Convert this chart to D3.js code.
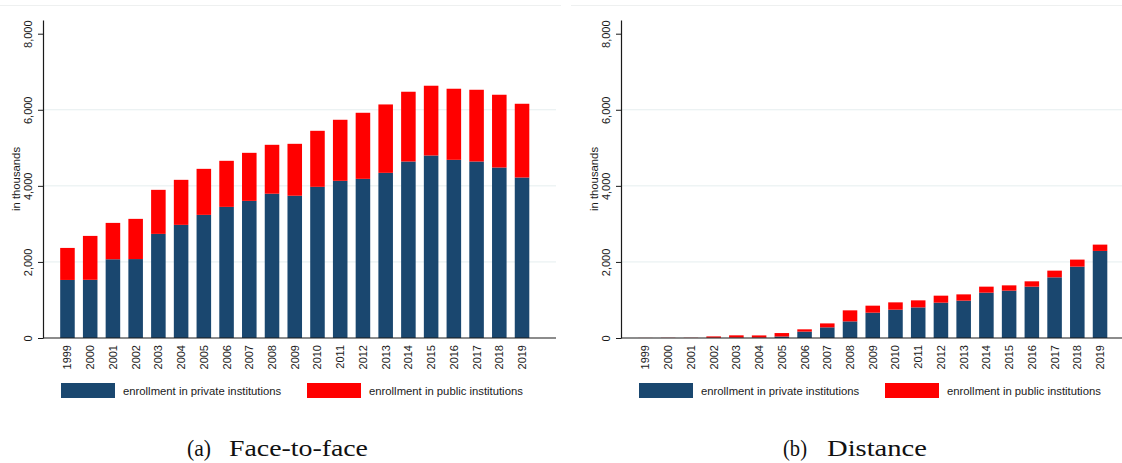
<!DOCTYPE html>
<html>
<head>
<meta charset="utf-8">
<script src="https://cdn.jsdelivr.net/npm/d3@7/dist/d3.min.js"></script>
<style>
  html, body { margin: 0; padding: 0; background: #fff; }
  svg { display: block; }
</style>
</head>
<body>
<svg id="chart" width="1122" height="463"></svg>
<script>
// Enrollment in higher education (thousands), 1999–2019
const years = ["1999","2000","2001","2002","2003","2004","2005","2006","2007","2008",
               "2009","2010","2011","2012","2013","2014","2015","2016","2017","2018","2019"];

// Face-to-face courses
const f2fPrivate = [1526, 1530, 2070, 2075, 2737, 2974, 3237, 3447, 3605, 3793,
                    3740, 3974, 4132, 4184, 4342, 4640, 4798, 4684, 4640, 4482, 4219];
const f2fPublic  = [842, 1154, 956, 1057, 1158, 1184, 1210, 1211, 1263, 1286,
                    1365, 1473, 1605, 1737, 1798, 1834, 1834, 1869, 1886, 1913, 1939];

// Distance courses
const distPrivate = [0, 1, 1, 6, 10, 10, 40, 168, 280, 437,
                     666, 745, 805, 929, 982, 1192, 1245, 1350, 1595, 1876, 2289];
const distPublic  = [2, 4, 4, 36, 60, 58, 90, 60, 104, 290,
                     184, 192, 185, 184, 165, 158, 139, 140, 176, 185, 166];

const yTicks = [0, 2000, 4000, 6000, 8000];
const seriesNames = ["enrollment in private institutions", "enrollment in public institutions"];
const seriesKeys = ["private", "public"];
const colors = { private: "#1a476f", public: "#ff0000" };

const svg = d3.select("#chart");
const sans = "'Liberation Sans', Arial, Helvetica, sans-serif";
const serif = "'Liberation Serif', 'Times New Roman', serif";

// panel-local layout
const L = {
  axisX: 43, plotRight: 556, plotTop: 20, baseY: 338, yMax: 8360,
  bandStart: 56.1, bandEnd: 533.4
};

// serif caption piece, stretched horizontally to span [x0, x1]
function captionText(str, x0, x1) {
  const t = svg.append("text")
    .attr("font-family", serif).attr("font-size", 24).attr("fill", "#111")
    .text(str);
  const w = t.node().getComputedTextLength();
  t.attr("transform", `translate(${x0},456) scale(${(x1 - x0) / w},1)`);
}

function drawPanel(offsetX, privateVals, publicVals, tag, title, tagSpan, titleSpan, lineSpan) {
  const g = svg.append("g").attr("transform", `translate(${offsetX},0)`);

  // thin frame line at the top of the graph region
  svg.append("line")
    .attr("x1", lineSpan[0]).attr("x2", lineSpan[1])
    .attr("y1", 5.5).attr("y2", 5.5)
    .attr("stroke", "#eef0f0").attr("stroke-width", 1);

  const rows = years.map((yr, i) => ({ year: yr, private: privateVals[i], public: publicVals[i] }));

  const x = d3.scaleBand().domain(years)
    .range([L.bandStart, L.bandEnd])
    .paddingInner(0.36).paddingOuter(0.18);
  const y = d3.scaleLinear().domain([0, L.yMax]).range([L.baseY, L.plotTop]);

  // gridlines
  g.append("g").selectAll("line")
    .data(yTicks.filter(t => t > 0 && t < 8000))
    .join("line")
    .attr("x1", L.axisX).attr("x2", L.plotRight)
    .attr("y1", d => y(d)).attr("y2", d => y(d))
    .attr("stroke", "#e6eeef").attr("stroke-width", 1);

  // stacked bars
  const stacked = d3.stack().keys(seriesKeys)(rows);
  g.append("g").selectAll("g")
    .data(stacked)
    .join("g")
    .attr("fill", s => colors[s.key])
    .selectAll("rect")
    .data(s => s)
    .join("rect")
    .attr("x", d => x(d.data.year))
    .attr("width", x.bandwidth())
    .attr("y", d => y(d[1]))
    .attr("height", d => Math.max(0, y(d[0]) - y(d[1])));

  // y axis
  const yAxis = d3.axisLeft(y).tickValues(yTicks).tickSize(5).tickSizeOuter(0)
    .tickFormat(d3.format(","));
  const ya = g.append("g").attr("transform", `translate(${L.axisX},0)`).call(yAxis);
  ya.select(".domain").attr("stroke", "#1a1a1a").attr("stroke-width", 1.2);
  ya.selectAll(".tick line").attr("stroke", "#1a1a1a").attr("stroke-width", 1);
  ya.selectAll(".tick text")
    .attr("font-family", sans).attr("font-size", 11).attr("fill", "#1a1a1a")
    .attr("x", null).attr("dy", null)
    .attr("text-anchor", "middle")
    .attr("transform", "translate(-11,0) rotate(-90)");

  // x axis (category labels, no ticks)
  const xAxis = d3.axisBottom(x).tickSize(0).tickSizeOuter(0);
  const xa = g.append("g").attr("transform", `translate(0,${L.baseY})`).call(xAxis);
  xa.select(".domain").remove();
  xa.selectAll(".tick text")
    .attr("font-family", sans).attr("font-size", 11).attr("fill", "#1a1a1a")
    .attr("y", null).attr("dy", null)
    .attr("text-anchor", "end")
    .attr("dominant-baseline", "central")
    .attr("transform", "translate(0,7) rotate(-90)");
  g.append("line")
    .attr("x1", L.axisX).attr("x2", L.plotRight)
    .attr("y1", L.baseY).attr("y2", L.baseY)
    .attr("stroke", "#1a1a1a").attr("stroke-width", 1.2);

  // y axis title
  g.append("text")
    .attr("transform", `translate(20,${(L.baseY + L.plotTop) / 2}) rotate(-90)`)
    .attr("text-anchor", "middle")
    .attr("font-family", sans).attr("font-size", 11.3).attr("fill", "#1a1a1a")
    .text("in thousands");

  // legend
  const legendItems = [
    { key: "private", label: seriesNames[0], sx: 61 },
    { key: "public", label: seriesNames[1], sx: 307 }
  ];
  const lg = g.append("g");
  lg.selectAll("rect").data(legendItems).join("rect")
    .attr("x", d => d.sx).attr("y", 383).attr("width", 54).attr("height", 15)
    .attr("fill", d => colors[d.key]);
  lg.selectAll("text").data(legendItems).join("text")
    .attr("x", d => d.sx + 62).attr("y", 390.8)
    .attr("dominant-baseline", "central")
    .attr("font-family", sans).attr("font-size", 11.3).attr("fill", "#1a1a1a")
    .text(d => d.label);

  // caption
  captionText(tag, tagSpan[0], tagSpan[1]);
  captionText(title, titleSpan[0], titleSpan[1]);
}

drawPanel(0, f2fPrivate, f2fPublic, "(a)", "Face-to-face", [187, 211], [229, 368], [0, 561]);
drawPanel(578, distPrivate, distPublic, "(b)", "Distance", [783, 807], [827, 927], [571, 1122]);
</script>
</body>
</html>
